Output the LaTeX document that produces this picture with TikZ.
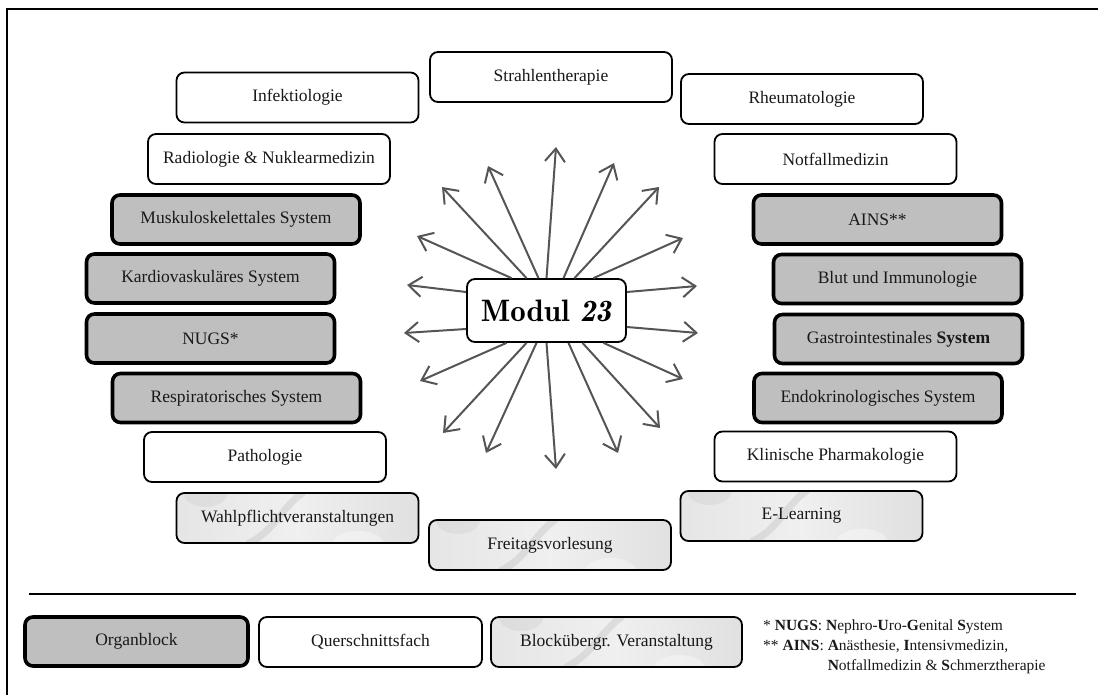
\documentclass[tikz,border=0pt]{standalone}
\usepackage{fontspec}
\setmainfont{Liberation Serif}
\usetikzlibrary{arrows.meta,calc}
\definecolor{organ}{RGB}{191,191,191}
\definecolor{arrowgray}{RGB}{85,85,85}
\tikzset{
  base/.style={rounded corners=8pt, align=center, inner sep=0pt,
    font=\fontsize{17.5}{21}\selectfont, text=black!90},
  qbox/.style={base, draw=black, line width=1.8pt, fill=white,
    minimum width=242pt, minimum height=50pt},
  obox/.style={base, draw=black, line width=3.6pt, fill=organ,
    minimum width=248pt, minimum height=49pt},
  mbox/.style={base, draw=black, line width=1.8pt,
    left color=gray!20, right color=gray!24, middle color=gray!12,
    minimum width=242pt, minimum height=50pt,
    path picture={
      \draw[gray!70, line width=7pt, opacity=.25, line cap=round]
        ($(path picture bounding box.south west)!.30!(path picture bounding box.south east)$)
        .. controls +(25,-12) and +(-20,14) ..
        ($(path picture bounding box.north west)!.52!(path picture bounding box.north east)$);
      \fill[white, opacity=.35]
        ($(path picture bounding box.south west)!.75!(path picture bounding box.south east)$)
        circle[x radius=25pt, y radius=12pt];
      \fill[gray!60, opacity=.18]
        ($(path picture bounding box.north west)!.12!(path picture bounding box.north east)$)
        circle[x radius=22pt, y radius=14pt];
    }},
  arr/.style={draw=arrowgray, line width=2pt,
    -{Straight Barb[length=13pt,width=20pt]}},
}
\begin{document}
\begin{tikzpicture}[x=1pt,y=-1pt]
\useasboundingbox (0,0) rectangle (1098,695);
% frame
\draw[line width=2pt] (7,710) -- (7,9) -- (1110,9);
% arrow tips
\coordinate (t1) at (556,147);
\coordinate (t2) at (614,163);
\coordinate (t3) at (659,187);
\coordinate (t4) at (683,238);
\coordinate (t5) at (697,286);
\coordinate (t6) at (698,333);
\coordinate (t7) at (683,379);
\coordinate (t8) at (660,428);
\coordinate (t9) at (618,453);
\coordinate (t10) at (556,469);
\coordinate (t11) at (486,453);
\coordinate (t12) at (443,433);
\coordinate (t13) at (420,381);
\coordinate (t14) at (404,333);
\coordinate (t15) at (407,285);
\coordinate (t16) at (417,236);
\coordinate (t17) at (442,187);
\coordinate (t18) at (488,166);
% centre
\node[draw=black, line width=1.8pt, rounded corners=8pt, fill=white,
  minimum width=159pt, minimum height=63pt, inner sep=0pt,
  font=\fontfamily{lmr}\bfseries\fontsize{31}{33}\selectfont] (modul) at (546.5,310.5) {Modul \textit{23}};
% arrows
\draw[arr] ([xshift=0pt]modul.north) -- (t1);
\draw[arr] ([xshift=17pt]modul.north) -- (t2);
\draw[arr] ([xshift=28pt]modul.north) -- (t3);
\draw[arr] ([xshift=47pt]modul.north) -- (t4);
\draw[arr] ([yshift=18.5pt]modul.east) -- (t5);
\draw[arr] ([yshift=-16.5pt]modul.east) -- (t6);
\draw[arr] ([xshift=57pt]modul.south) -- (t7);
\draw[arr] ([xshift=36pt]modul.south) -- (t8);
\draw[arr] ([xshift=22pt]modul.south) -- (t9);
\draw[arr] ([xshift=0pt]modul.south) -- (t10);
\draw[arr] ([xshift=-10pt]modul.south) -- (t11);
\draw[arr] ([xshift=-20pt]modul.south) -- (t12);
\draw[arr] ([xshift=-40pt]modul.south) -- (t13);
\draw[arr] ([yshift=-18.5pt]modul.west) -- (t14);
\draw[arr] ([yshift=18.5pt]modul.west) -- (t15);
\draw[arr] ([xshift=-35pt]modul.north) -- (t16);
\draw[arr] ([xshift=-20pt]modul.north) -- (t17);
\draw[arr] ([xshift=-8pt]modul.north) -- (t18);
% surrounding boxes
\node[qbox] (strahl) at (551,77) {Strahlentherapie};
\node[qbox] (infekt) at (297.5,97.5) {Infektiologie};
\node[qbox] (rheuma) at (802,99) {Rheumatologie};
\node[qbox] (radio) at (269,159) {Radiologie \& Nuklearmedizin};
\node[qbox] (notfall) at (835.5,159) {Notfallmedizin};
\node[obox] (musk) at (236,219.5) {Muskuloskelettales System};
\node[obox] (ains) at (877.5,219.5) {AINS**};
\node[obox] (kardio) at (210.5,278.5) {Kardiovaskuläres System};
\node[obox] (blut) at (897.5,279) {Blut und Immunologie};
\node[obox] (nugs) at (210.5,338.5) {NUGS*};
\node[obox] (gastro) at (898.5,339) {Gastrointestinales \textbf{System}};
\node[obox] (resp) at (236.5,398) {Respiratorisches System};
\node[obox] (endo) at (878,398) {Endokrinologisches System};
\node[qbox] (patho) at (265,457) {Pathologie};
\node[qbox] (klin) at (835.5,456.5) {Klinische Pharmakologie};
\node[mbox] (wahl) at (297.5,518) {Wahlpflichtveranstaltungen};
\node[mbox] (elearn) at (801.5,516) {E-Learning};
\node[mbox] (freitag) at (550,545) {Freitagsvorlesung};
% rule
\draw[line width=2.2pt] (29,594) -- (1076,594);
% legend
\node[obox, minimum width=223pt] (legorgan) at (136.5,641.5) {Organblock};
\node[qbox, minimum width=223pt] (legquer) at (370.5,642) {Querschnittsfach};
\node[mbox, minimum width=251pt] (legblock) at (616.5,642) {Blockübergr. Veranstaltung};
\node[anchor=north west, inner sep=0pt, font=\fontsize{15.5}{20}\selectfont, text=black!90] (notes) at (763,616)
 {\begin{tabular}{@{}l@{}l@{}}
  \multicolumn{2}{@{}l@{}}{* \textbf{NUGS}: \textbf{N}ephro-\textbf{U}ro-\textbf{G}enital \textbf{S}ystem}\\
  \relax** \textbf{AINS}:\kern0.25em & \textbf{A}nästhesie, \textbf{I}ntensivmedizin,\\
  & \textbf{N}otfallmedizin \& \textbf{S}chmerztherapie
 \end{tabular}};
\end{tikzpicture}
\end{document}
